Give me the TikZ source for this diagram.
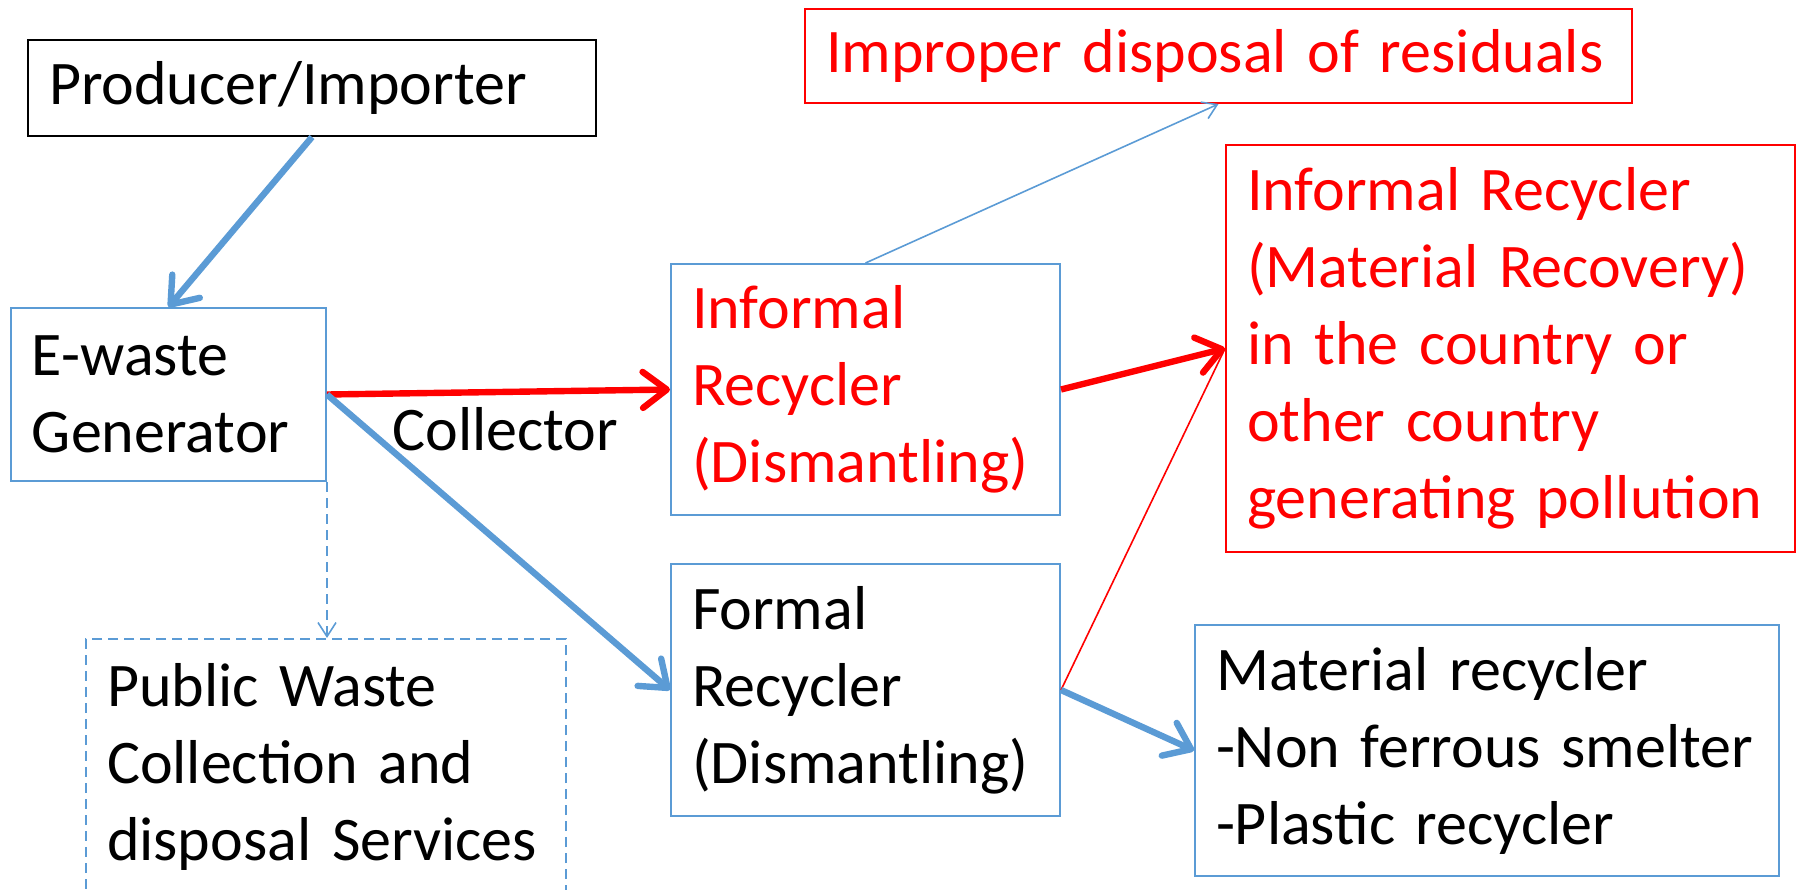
\documentclass[tikz,border=0pt]{standalone}
\usepackage{fontspec}
\setmainfont{Carlito}
\usepackage{tikz}
\usetikzlibrary{arrows.meta}
\definecolor{ofblue}{HTML}{5B9BD5}
\definecolor{ofred}{HTML}{FF0000}

\begin{document}
\begin{tikzpicture}[x=0.5pt, y=-0.5pt,
  box/.style={draw=ofblue, line width=1pt, align=left, inner xsep=10.5pt, inner ysep=0pt,
    font=\fontsize{31}{38.5}\selectfont},
  redbox/.style={box, draw=ofred, text=ofred},
  bigarrow/.style={line width=3.2pt, -{Straight Barb[length=12pt, width=18pt, round]}},
  thinarrow/.style={line width=0.8pt, -{Straight Barb[length=7pt, width=9pt]}}]
  \clip (0,0) rectangle (1802,889);

  % Boxes
  \node[box, draw=black, text width=263pt, minimum height=48pt] (prod) at (312,88) {Producer/Importer};
  \node[box, text width=136.5pt, minimum height=86.5pt] (gen) at (168.5,394.5) {E-waste\\Generator};
  \node[box, dash pattern=on 5pt off 3pt, text width=219pt, minimum height=128pt] (pub) at (326,767)
    {Public Waste\\Collection and\\disposal Services};
  \node[box, text=ofred, text width=173.5pt, minimum height=125.5pt] (inf) at (865.5,389.5)
    {Informal\\Recycler\\(Dismantling)};
  \node[box, text width=173.5pt, minimum height=126pt] (form) at (865.5,690)
    {Formal\\Recycler\\(Dismantling)};
  \node[redbox, text width=392.5pt, minimum height=47pt] (impr) at (1218.5,56) {Improper disposal of residuals};
  \node[redbox, text width=263.5pt, minimum height=203.5pt] (recov) at (1510.5,348.5)
    {Informal Recycler\\(Material Recovery)\\in the country or\\other country\\generating pollution};
  \node[box, text width=271pt, minimum height=125.5pt] (matrec) at (1487,750.5)
    {Material recycler\\-Non ferrous smelter\\-Plastic recycler};

  % Flows
  \draw[bigarrow, ofblue] (prod.south) -- (gen.north);
  \draw[bigarrow, ofred] (gen.east) -- node[pos=0.52, below=3pt, text=black, font=\fontsize{31}{38.5}\selectfont] (coll) {Collector} (inf.west);
  \draw[bigarrow, ofblue] (gen.east) -- (form.west);
  \draw[thinarrow, ofblue, dash pattern=on 5pt off 3pt] (gen.south east) -- (gen.south east |- pub.north);
  \draw[thinarrow, ofblue] (inf.north) -- (impr.south);
  \draw[bigarrow, ofred] (inf.east) -- (recov.west);
  \draw[line width=0.8pt, ofred] (form.east) -- (recov.west);
  \draw[bigarrow, ofblue] (form.east) -- (matrec.west);

\end{tikzpicture}
\end{document}
